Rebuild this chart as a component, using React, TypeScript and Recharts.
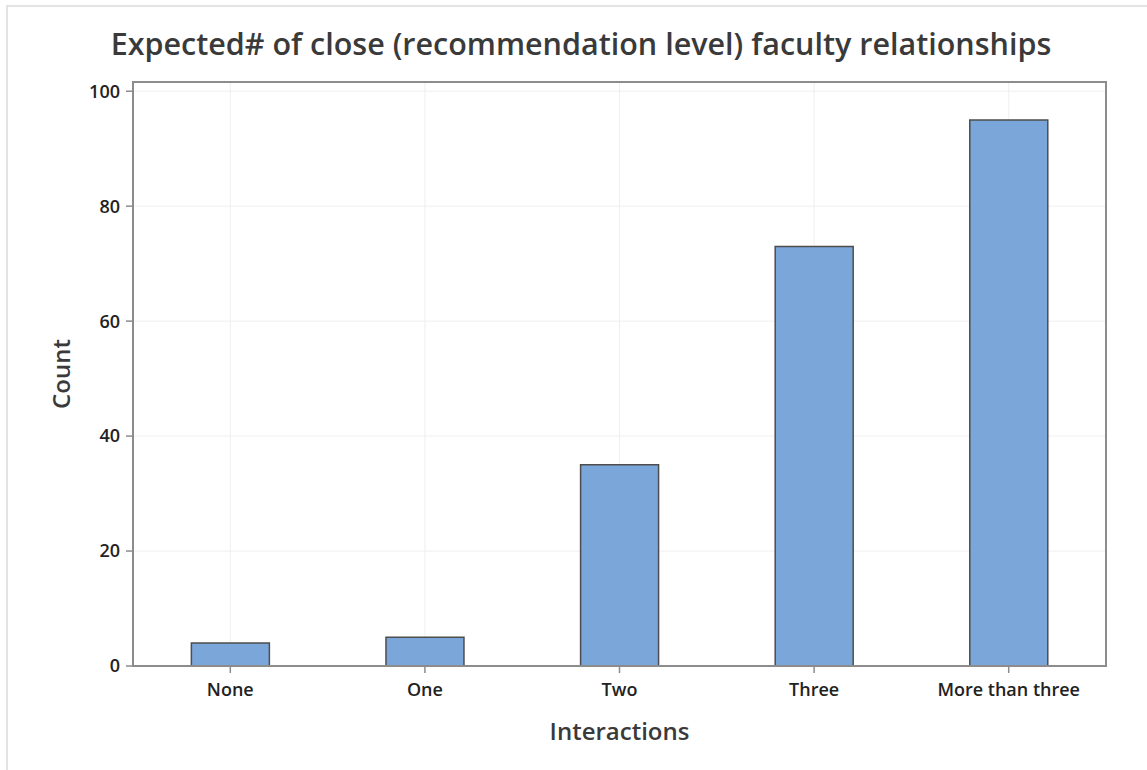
import { BarChart, Bar, XAxis, YAxis, CartesianGrid, ReferenceArea } from "recharts";

const categories = ["None", "One", "Two", "Three", "More than three"];
const counts = [4, 5, 35, 73, 95];
const yTicks = [0, 20, 40, 60, 80, 100];
const yMax = 101.6;

const data = categories.map((name, i) => ({ name, count: counts[i] }));

const FONT = "'Open Sans', 'Noto Sans', sans-serif";
const C = {
  bar: "#7ba6d9",
  barStroke: "#4d4d4d",
  frame: "#8c8c8c",
  grid: "#efefef",
  text: "#222222",
  label: "#3a3a3a",
};

export default function App() {
  return (
    <div
      style={{
        position: "absolute",
        left: 0,
        top: 0,
        width: 1147,
        height: 770,
        background: "#fff",
        fontFamily: FONT,
      }}
    >
      {/* cropped outer frame */}
      <div
        style={{
          position: "absolute",
          left: 6,
          top: 5,
          width: 1141,
          height: 765,
          borderTop: "2px solid #e3e3e3",
          borderLeft: "2px solid #e3e3e3",
        }}
      />
      <div
        style={{
          position: "absolute",
          left: 0,
          width: 1162,
          top: 22,
          textAlign: "center",
          fontSize: 30.5,
          fontWeight: 600,
          color: C.label,
          fontFamily: FONT,
          whiteSpace: "nowrap",
        }}
      >
        Expected# of close (recommendation level) faculty relationships
      </div>
      <BarChart
        width={1147}
        height={770}
        data={data}
        margin={{ top: 82, right: 41, bottom: 74, left: 73 }}
        barCategoryGap="30%"
        style={{ position: "absolute", left: 0, top: 0 }}
      >
        <CartesianGrid stroke={C.grid} strokeWidth={1} />
        <XAxis
          dataKey="name"
          height={30}
          tick={{ fill: C.text, fontSize: 18, fontWeight: 600, fontFamily: FONT }}
          tickLine={{ stroke: C.frame, strokeWidth: 1.5 }}
          tickSize={7}
          tickMargin={10}
          axisLine={{ stroke: C.frame, strokeWidth: 2 }}
          label={{
            value: "Interactions",
            position: "insideBottom",
            offset: -44,
            fill: C.label,
            fontSize: 24,
            fontWeight: 600,
            fontFamily: FONT,
          }}
        />
        <YAxis
          width={60}
          domain={[0, yMax]}
          ticks={yTicks}
          tick={{ fill: C.text, fontSize: 18, fontWeight: 600, fontFamily: FONT }}
          tickLine={{ stroke: C.frame, strokeWidth: 1.5 }}
          tickSize={7}
          tickMargin={6}
          axisLine={{ stroke: C.frame, strokeWidth: 2 }}
          label={{
            value: "Count",
            angle: -90,
            position: "insideLeft",
            offset: -12,
            fill: C.label,
            fontSize: 24,
            fontWeight: 600,
            fontFamily: FONT,
            style: { textAnchor: "middle" },
          }}
        />
        <Bar
          dataKey="count"
          fill={C.bar}
          stroke={C.barStroke}
          strokeWidth={1.5}
          isAnimationActive={false}
        />
        <ReferenceArea
          y1={0}
          y2={yMax}
          fill="none"
          stroke={C.frame}
          strokeWidth={2}
          ifOverflow="visible"
        />
      </BarChart>
    </div>
  );
}
